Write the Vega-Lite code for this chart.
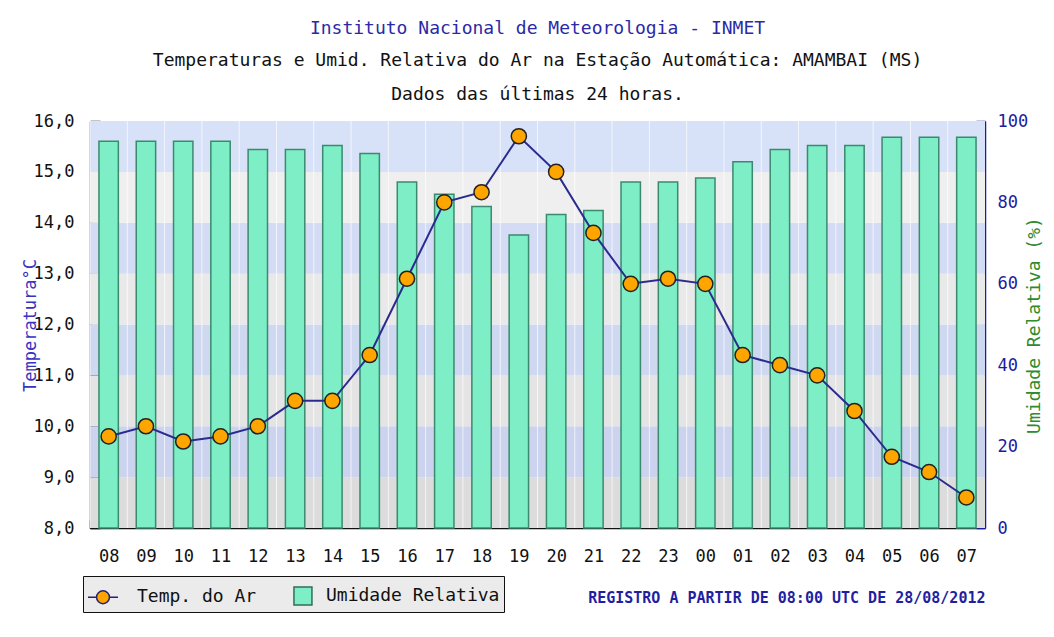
{
  "$schema": "https://vega.github.io/schema/vega-lite/v6.json",
  "width": 895,
  "height": 407,
  "autosize": "none",
  "padding": {"left": 90, "top": 121, "right": 69, "bottom": 109},
  "background": "white",
  "config": {"font": "DejaVu Sans Mono", "view": {"stroke": null}},
  "title": {
    "text": "Instituto Nacional de Meteorologia - INMET",
    "subtitle": ["Temperaturas e Umid. Relativa do Ar na Estação Automática: AMAMBAI (MS)", "Dados das últimas 24 horas."],
    "font": "DejaVu Sans Mono",
    "fontSize": 18,
    "fontWeight": "normal",
    "color": "#2a2aa6",
    "subtitleFont": "DejaVu Sans Mono",
    "subtitleFontSize": 18,
    "subtitleColor": "#111111",
    "subtitleLineHeight": 34,
    "subtitlePadding": 14,
    "offset": 8,
    "anchor": "middle"
  },
  "datasets": {
    "dados": [
      {"hora": "08", "temp": 9.8, "umid": 95},
      {"hora": "09", "temp": 10.0, "umid": 95},
      {"hora": "10", "temp": 9.7, "umid": 95},
      {"hora": "11", "temp": 9.8, "umid": 95},
      {"hora": "12", "temp": 10.0, "umid": 93},
      {"hora": "13", "temp": 10.5, "umid": 93},
      {"hora": "14", "temp": 10.5, "umid": 94},
      {"hora": "15", "temp": 11.4, "umid": 92},
      {"hora": "16", "temp": 12.9, "umid": 85},
      {"hora": "17", "temp": 14.4, "umid": 82},
      {"hora": "18", "temp": 14.6, "umid": 79},
      {"hora": "19", "temp": 15.7, "umid": 72},
      {"hora": "20", "temp": 15.0, "umid": 77},
      {"hora": "21", "temp": 13.8, "umid": 78},
      {"hora": "22", "temp": 12.8, "umid": 85},
      {"hora": "23", "temp": 12.9, "umid": 85},
      {"hora": "00", "temp": 12.8, "umid": 86},
      {"hora": "01", "temp": 11.4, "umid": 90},
      {"hora": "02", "temp": 11.2, "umid": 93},
      {"hora": "03", "temp": 11.0, "umid": 94},
      {"hora": "04", "temp": 10.3, "umid": 94},
      {"hora": "05", "temp": 9.4, "umid": 96},
      {"hora": "06", "temp": 9.1, "umid": 96},
      {"hora": "07", "temp": 8.6, "umid": 96}
    ],
    "faixas": [
      {"lo": 8, "hi": 9, "faixa": "8-9"},
      {"lo": 9, "hi": 10, "faixa": "9-10"},
      {"lo": 10, "hi": 11, "faixa": "10-11"},
      {"lo": 11, "hi": 12, "faixa": "11-12"},
      {"lo": 12, "hi": 13, "faixa": "12-13"},
      {"lo": 13, "hi": 14, "faixa": "13-14"},
      {"lo": 14, "hi": 15, "faixa": "14-15"},
      {"lo": 15, "hi": 16, "faixa": "15-16"}
    ]
  },
  "layer": [
    {
      "data": {"name": "faixas"},
      "mark": {"type": "rect"},
      "encoding": {
        "y": {"field": "lo", "type": "quantitative", "scale": {"domain": [8, 16], "nice": false, "zero": false}, "axis": null},
        "y2": {"field": "hi"},
        "color": {
          "field": "faixa", "type": "nominal",
          "scale": {
            "domain": ["8-9", "9-10", "10-11", "11-12", "12-13", "13-14", "14-15", "15-16"],
            "range": ["#dcdcdc", "#cbd3ee", "#e4e4e4", "#cfd8f1", "#e9e9e9", "#d3dcf4", "#efefef", "#d7e1f8"]
          },
          "legend": null
        }
      }
    },
    {
      "data": {"name": "dados"},
      "mark": {"type": "rule", "color": "#ffffff", "opacity": 0.7, "strokeWidth": 1},
      "encoding": {
        "x": {"field": "hora", "type": "ordinal", "sort": null, "bandPosition": 0}
      }
    },
    {
      "data": {"name": "dados"},
      "mark": {"type": "bar", "fill": "#7eeec6", "stroke": "#3b8a6e", "strokeWidth": 1.5, "width": {"band": 0.52}},
      "encoding": {
        "x": {
          "field": "hora", "type": "ordinal", "sort": null,
          "scale": {"paddingInner": 0, "paddingOuter": 0},
          "axis": {
            "labelAngle": 0,
            "labelAlign": "center",
            "labelFont": "DejaVu Sans Mono",
            "labelFontSize": 17,
            "labelColor": "#111111",
            "labelPadding": 36,
            "labelOffset": 18.65,
            "domainColor": "#111111",
            "domainWidth": 1.5,
            "tickColor": "#111111",
            "tickSize": -8,
            "tickWidth": 1.5,
            "tickOffset": -18.65,
            "grid": false,
            "title": "REGISTRO A PARTIR DE 08:00 UTC DE 28/08/2012",
            "titleFont": "DejaVu Sans Mono",
            "titleFontSize": 15,
            "titleFontWeight": "bold",
            "titleColor": "#1f1fa0",
            "titleAlign": "right",
            "titleBaseline": "middle",
            "titleX": 895,
            "titleY": 69
          }
        },
        "y": {
          "field": "umid", "type": "quantitative",
          "scale": {"domain": [0, 100], "nice": false},
          "axis": {
            "orient": "right",
            "values": [0, 10, 20, 30, 40, 50, 60, 70, 80, 90, 100],
            "labelExpr": "datum.value % 20 === 0 ? datum.label : ''",
            "labelFont": "DejaVu Sans Mono",
            "labelFontSize": 17,
            "labelColor": "#1c1ca0",
            "labelPadding": 21,
            "domainColor": "#1c1ca0",
            "domainWidth": 1.5,
            "tickColor": "#1c1ca0",
            "tickSize": -9,
            "tickWidth": 1.5,
            "grid": false,
            "title": "Umidade Relativa (%)",
            "titleFont": "DejaVu Sans Mono",
            "titleFontSize": 18,
            "titleFontWeight": "normal",
            "titleColor": "#2e8b2e",
            "titleAngle": 270,
            "titleAlign": "center",
            "titleBaseline": "middle",
            "titleX": 49,
            "titleY": 204
          }
        }
      }
    },
    {
      "data": {"name": "dados"},
      "encoding": {
        "x": {"field": "hora", "type": "ordinal", "sort": null},
        "y": {
          "field": "temp", "type": "quantitative",
          "scale": {"domain": [8, 16], "nice": false, "zero": false},
          "axis": {
            "orient": "left",
            "values": [8, 8.5, 9, 9.5, 10, 10.5, 11, 11.5, 12, 12.5, 13, 13.5, 14, 14.5, 15, 15.5, 16],
            "labelExpr": "datum.value % 1 === 0 ? replace(format(datum.value, '.1f'), '.', ',') : ''",
            "labelFont": "DejaVu Sans Mono",
            "labelFontSize": 17,
            "labelColor": "#111111",
            "labelPadding": 26,
            "domainColor": "#111111",
            "domainWidth": 1.5,
            "tickColor": "#111111",
            "tickSize": -10,
            "tickWidth": 1.5,
            "grid": false,
            "title": "Temperatura°C",
            "titleFont": "DejaVu Sans Mono",
            "titleFontSize": 17,
            "titleFontWeight": "normal",
            "titleColor": "#3535c0",
            "titleAngle": 270,
            "titleAlign": "center",
            "titleBaseline": "middle",
            "titleX": -60,
            "titleY": 204
          }
        }
      },
      "layer": [
        {"mark": {"type": "line", "color": "#2b2b8f", "strokeWidth": 2}},
        {"mark": {"type": "point", "filled": true, "shape": "circle", "size": 230, "fill": "#ffa500", "stroke": "#222222", "strokeWidth": 1.5, "opacity": 1}},
        {
          "data": {"values": []},
          "mark": {"type": "point", "filled": true, "strokeWidth": 1.5, "opacity": 1},
          "encoding": {
            "fill": {
              "datum": "Temp. do Ar", "type": "nominal",
              "scale": {"domain": ["Temp. do Ar", "Umidade Relativa"], "range": ["#ffa500", "#7eeec6"]},
              "legend": {
                "title": null,
                "orient": "none",
                "legendX": -7,
                "legendY": 455,
                "direction": "horizontal",
                "fillColor": "#ebebeb",
                "strokeColor": "#111111",
                "padding": 4,
                "symbolSize": 900,
                "symbolStrokeWidth": 1.5,
                "labelOffset": 18,
                "columnPadding": 19,
                "labelFont": "DejaVu Sans Mono",
                "labelFontSize": 18,
                "labelColor": "#111111",
                "labelLimit": 400
              }
            },
            "stroke": {
              "datum": "Temp. do Ar", "type": "nominal",
              "scale": {"domain": ["Temp. do Ar", "Umidade Relativa"], "range": ["#24246e", "#2f6f5a"]},
              "legend": {
                "title": null,
                "orient": "none",
                "legendX": -7,
                "legendY": 455,
                "direction": "horizontal",
                "fillColor": "#ebebeb",
                "strokeColor": "#111111",
                "padding": 4,
                "symbolSize": 900,
                "symbolStrokeWidth": 1.5,
                "labelOffset": 18,
                "columnPadding": 19,
                "labelFont": "DejaVu Sans Mono",
                "labelFontSize": 18,
                "labelColor": "#111111",
                "labelLimit": 400
              }
            },
            "shape": {
              "datum": "Temp. do Ar", "type": "nominal",
              "scale": {
                "domain": ["Temp. do Ar", "Umidade Relativa"],
                "range": ["M-1,0L-0.43,0M0.43,0L1,0M0,-0.43A0.43,0.43 0 1,1 0,0.43A0.43,0.43 0 1,1 0,-0.43Z", "M0.13,-0.6H1.33V0.6H0.13Z"]
              },
              "legend": {
                "title": null,
                "orient": "none",
                "legendX": -7,
                "legendY": 455,
                "direction": "horizontal",
                "fillColor": "#ebebeb",
                "strokeColor": "#111111",
                "padding": 4,
                "symbolSize": 900,
                "symbolStrokeWidth": 1.5,
                "labelOffset": 18,
                "columnPadding": 19,
                "labelFont": "DejaVu Sans Mono",
                "labelFontSize": 18,
                "labelColor": "#111111",
                "labelLimit": 400
              }
            }
          }
        }
      ]
    }
  ],
  "resolve": {"scale": {"y": "independent"}}
}
